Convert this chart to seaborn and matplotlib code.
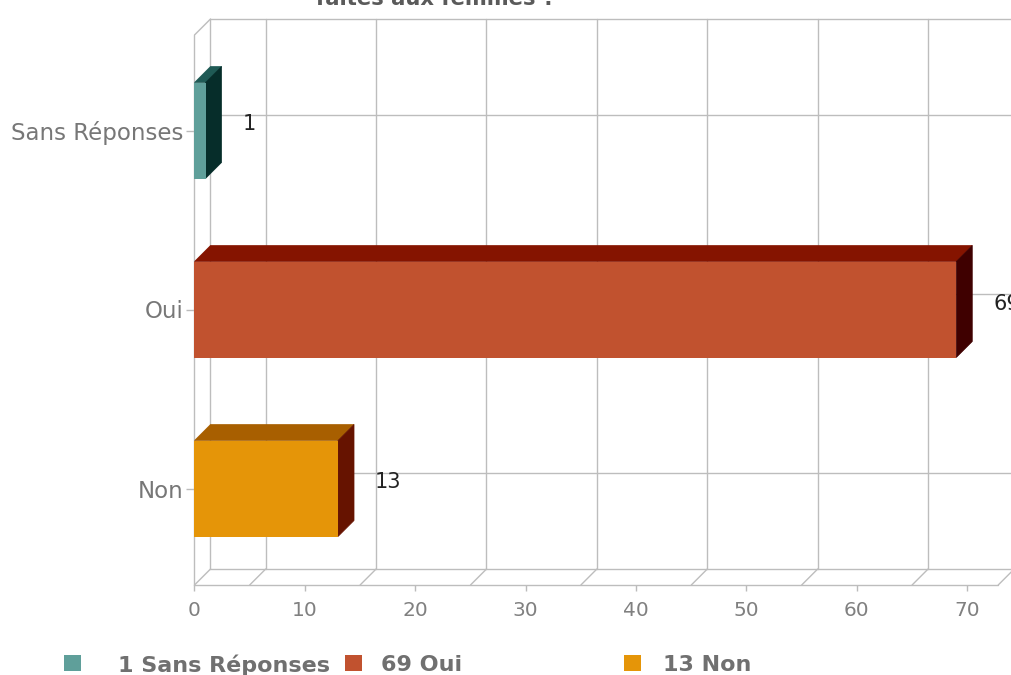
import matplotlib
matplotlib.use("Agg")
import matplotlib.pyplot as plt
from matplotlib.patches import Polygon, Rectangle
from matplotlib.transforms import ScaledTranslation
import seaborn as sns
import pandas as pd

categories = ["Sans Réponses", "Oui", "Non"]
values = [1, 69, 13]
front_colors = ["#5F9F9A", "#C1522F", "#E59508"]
top_colors = ["#1F5A55", "#851400", "#A85F00"]
side_colors = ["#062D2A", "#3F0000", "#661300"]
x_ticks = [0, 10, 20, 30, 40, 50, 60, 70]
grid_x = [5, 15, 25, 35, 45, 55, 65]
legend_labels = ["1 Sans Réponses", "69 Oui", "13 Non"]
title_text = "faites aux femmes ?"

W, H, DPI = 1012, 675, 100
sns.set_theme(style="white")
plt.rcParams["font.family"] = ["DejaVu Sans"]
fig = plt.figure(figsize=(W / DPI, H / DPI), dpi=DPI, facecolor="white")
L, B = 194.5, 585
ax = fig.add_axes([L / W, (H - B) / H, (W - L) / W, B / H])

df = pd.DataFrame({"cat": categories, "val": values})
sns.barplot(data=df, y="cat", x="val", hue="cat", palette=front_colors, legend=False,
            width=96 / 179, ax=ax, zorder=5, saturation=1, linewidth=0)

PX = 11.04
ax.set_xlim(0, (W - L) / PX)
ax.set_ylim((B - 130.5) / 179, -130.5 / 179)
ax.set_xlabel("")
ax.set_ylabel("")
for s in ax.spines.values():
    s.set_visible(False)
ax.set_xticks(x_ticks)
ax.set_yticks(range(3), categories)
ax.tick_params(axis="x", length=6 * .72, width=1, color="#BBBBBB", labelcolor="#808080",
               labelsize=14.5, pad=7, bottom=True)
ax.tick_params(axis="y", length=8 * .72, width=1, color="#BBBBBB", labelcolor="#777777",
               labelsize=16.5, pad=2, left=True)

D = 16
depth = ScaledTranslation(D / DPI, D / DPI, fig.dpi_scale_trans)
back = ax.transData + depth
GRID = "#BDBDBD"
top_y = (19 + D - 130.5) / 179
floor_y = (B - 130.5) / 179
xmax = (W - L) / PX
kw = dict(color=GRID, lw=1, clip_on=False, zorder=1)
ax.plot([0, 0], [top_y, floor_y], transform=ax.transData, **kw)
ax.plot([0, 0], [top_y, floor_y], transform=back, **kw)
ax.plot([0, xmax], [top_y, top_y], transform=back, **kw)
ax.plot([0, xmax], [floor_y, floor_y], transform=back, **kw)
ax.plot([0, 72.8], [floor_y, floor_y], transform=ax.transData, **kw)
for i in range(3):
    ax.plot([0, xmax], [i, i], transform=back, **kw)
for gx in grid_x:
    ax.plot([gx, gx], [top_y, floor_y], transform=back, **kw)
inv = fig.transFigure.inverted()
for gx, gy in [(g, floor_y) for g in [0] + grid_x + [72.8]] + [(0, top_y)]:
    p1 = ax.transData.transform((gx, gy))
    a, b = inv.transform(p1), inv.transform((p1[0] + D, p1[1] + D))
    fig.add_artist(plt.Line2D([a[0], b[0]], [a[1], b[1]], color=GRID, lw=1, zorder=1))

h = 96 / 179 / 2
dx = D / PX
dy = D / 179
for i, v in enumerate(values):
    ax.add_patch(Polygon([(0, i - h), (v, i - h), (v + dx, i - h - dy), (dx, i - h - dy)],
                         closed=True, fc=top_colors[i], ec=top_colors[i], lw=0.5, zorder=4, clip_on=False))
    ax.add_patch(Polygon([(v, i - h), (v + dx, i - h - dy), (v + dx, i + h - dy), (v, i + h)],
                         closed=True, fc=side_colors[i], ec=side_colors[i], lw=0.5, zorder=4, clip_on=False))
    ax.annotate(str(v), (v, i), xytext=(37, 6), textcoords="offset pixels", ha="left",
                va="center", fontsize=15, color="#222222", zorder=6, annotation_clip=False)

fig.text(436 / W, 1 + 1 / H, title_text, ha="center", va="center", fontsize=15.2,
         fontweight="bold", color="#5A5A5A")

leg_x = [64, 345, 624]
text_x = [118, 381, 663]
for i, lab in enumerate(legend_labels):
    fig.add_artist(Rectangle((leg_x[i] / W, 1 - 671 / H), 17 / W, 16 / H,
                             transform=fig.transFigure, fc=front_colors[i], ec="none"))
    fig.text(text_x[i] / W, 1 - 665 / H, lab, ha="left", va="center", fontsize=16,
             fontweight="bold", color="#707070")

fig.savefig("out.png", dpi=DPI)
